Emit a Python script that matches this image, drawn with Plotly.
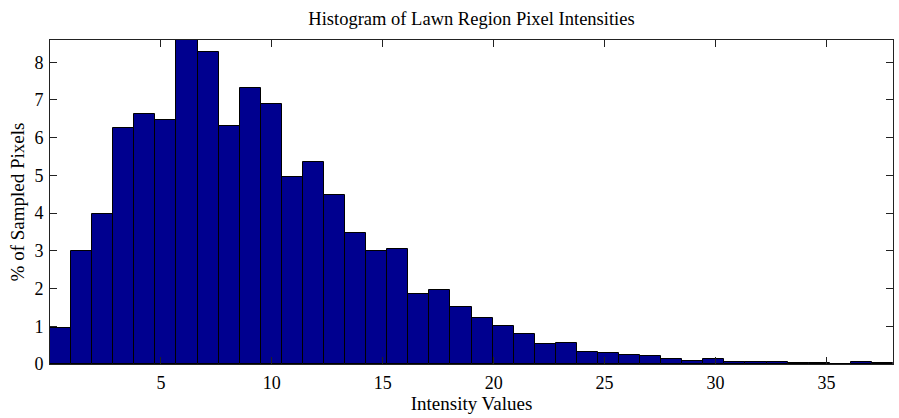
import numpy as np
import plotly.graph_objects as go

# Histogram of lawn-region pixel intensities: 40 equal bins spanning 0..38
BIN_WIDTH = 0.95
PERCENT = [
    0.95, 2.99, 3.97, 6.25, 6.63, 6.48, 8.59, 8.27, 6.31, 7.31,
    6.89, 4.97, 5.35, 4.49, 3.46, 3.00, 3.04, 1.85, 1.96, 1.51,
    1.22, 1.01, 0.80, 0.52, 0.57, 0.32, 0.28, 0.25, 0.20, 0.14,
    0.08, 0.12, 0.04, 0.04, 0.04, 0.035, 0.02, 0.0, 0.04, 0.02,
]
X_TICKS = [5, 10, 15, 20, 25, 30, 35]
Y_TICKS = [0, 1, 2, 3, 4, 5, 6, 7, 8]

centers = (np.arange(len(PERCENT)) + 0.5) * BIN_WIDTH

FONT = "Liberation Serif, Times New Roman, serif"

fig = go.Figure(
    go.Bar(
        x=centers,
        y=PERCENT,
        width=BIN_WIDTH,
        marker=dict(color="#00008F", line=dict(color="#000000", width=1)),
        hoverinfo="x+y",
    )
)

axis_common = dict(
    showline=True,
    linecolor="#222222",
    linewidth=1,
    mirror="ticks",
    ticks="inside",
    ticklen=7,
    tickcolor="#222222",
    showgrid=False,
    zeroline=False,
    tickfont=dict(family=FONT, size=18, color="#000000"),
)

fig.update_layout(
    width=899,
    height=418,
    margin=dict(l=50, r=6, t=40, b=54),
    paper_bgcolor="white",
    plot_bgcolor="white",
    bargap=0,
    showlegend=False,
    title=dict(
        text="Histogram of Lawn Region Pixel Intensities",
        x=0.5 * (50 + 893) / 899,
        xanchor="center",
        y=1 - 19 / 418,
        yanchor="middle",
        font=dict(family=FONT, size=18.5, color="#000000"),
    ),
    xaxis=dict(
        range=[0, len(PERCENT) * BIN_WIDTH],
        tickvals=X_TICKS,
        ticklabelstandoff=2,
        title=dict(text="Intensity Values", font=dict(family=FONT, size=19, color="#000000"), standoff=0),
        **axis_common,
    ),
    yaxis=dict(
        range=[0, max(PERCENT)],
        tickvals=Y_TICKS,
        ticklabelstandoff=2,
        title=dict(text="% of Sampled Pixels", font=dict(family=FONT, size=19, color="#000000"), standoff=4),
        **axis_common,
    ),
)

fig.write_html("out.html")
